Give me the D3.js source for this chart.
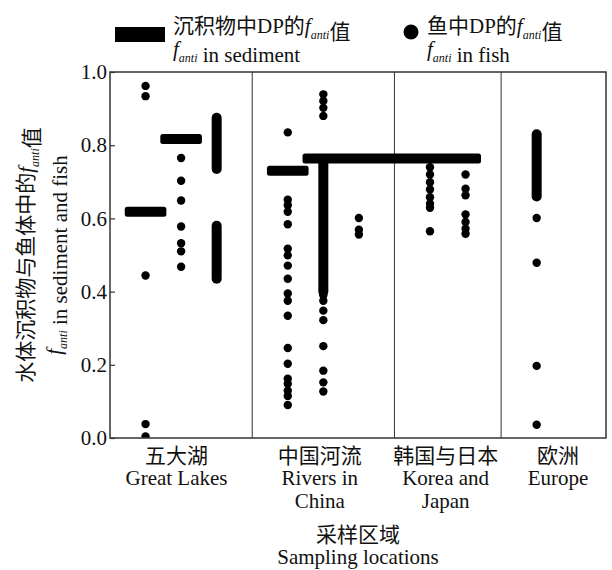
<!DOCTYPE html>
<html>
<head>
<meta charset="utf-8">
<script src="https://cdn.jsdelivr.net/npm/d3@7"></script>
<style>
  body { margin: 0; background: #fff; }
  svg text { font-family: "Liberation Serif", "Times New Roman", "Noto Sans CJK SC", serif; fill: #111; }
</style>
</head>
<body>
<div id="chart"></div>
<script>
// x axis: sampling regions (two-language labels) and where they sit on the slot axis
const regionCn = ["五大湖", "中国河流", "韩国与日本", "欧洲"];
const regionEn = [["Great Lakes"], ["Rivers in", "China"], ["Korea and", "Japan"], ["Europe"]];
const regionSlot = [1.87, 5.9, 9.44, 12.6];
const dividerSlots = [4, 8, 11];
const yTicks = [0, 0.2, 0.4, 0.6, 0.8, 1.0];

// f_anti in sediment: horizontal markers, slot range covered
const sedFrom = [1, 2, 5, 6];
const sedTo = [1, 2, 5, 9.85];
const sedValue = [0.618, 0.817, 0.730, 0.764];

// f_anti in fish, one list per column
const fishSlots = [1, 2, 5, 6, 7, 9, 10, 12];
const fishValues = [
  [0.962, 0.934, 0.444, 0.038, 0.004],
  [0.765, 0.703, 0.649, 0.578, 0.532, 0.510, 0.468],
  [0.835, 0.651, 0.636, 0.618, 0.584, 0.517, 0.499, 0.471, 0.435, 0.395, 0.375, 0.334,
   0.246, 0.203, 0.162, 0.148, 0.129, 0.115, 0.090],
  [0.939, 0.921, 0.902, 0.880, 0.390, 0.375, 0.348, 0.322, 0.251, 0.184, 0.152, 0.127],
  [0.601, 0.569, 0.556],
  [0.740, 0.720, 0.699, 0.679, 0.658, 0.640, 0.629, 0.565],
  [0.720, 0.681, 0.663, 0.611, 0.590, 0.572, 0.558],
  [0.601, 0.479, 0.197, 0.036]
];

// fish columns packed too tight to tell points apart: low / high
const denseSlots = [3, 3, 6, 12];
const denseLow = [0.735, 0.435, 0.400, 0.660];
const denseHigh = [0.875, 0.580, 0.750, 0.830];

const W = 612, H = 570;
const margin = { top: 72, right: 6, bottom: 132, left: 110 };
const serif = '"Liberation Serif", "Times New Roman", "Noto Sans CJK SC", serif';

const svg = d3.select("#chart").append("svg")
  .attr("width", W)
  .attr("height", H);

const x = d3.scaleLinear().domain([0, 13.95]).range([margin.left, W - margin.right]);
const y = d3.scaleLinear().domain([0, 1]).range([H - margin.bottom, margin.top]);

// writes "... f_anti ..." into a text element; parts: plain strings or {f:true}
function richText(sel, parts) {
  parts.forEach(p => {
    if (typeof p === "string") {
      sel.append("tspan").text(p);
    } else {
      sel.append("tspan").attr("font-style", "italic").text("f");
      sel.append("tspan").attr("font-style", "italic").attr("font-size", 12).attr("dy", 6).text("anti");
      sel.append("tspan").attr("dy", -6).text("");
    }
  });
}

svg.append("clipPath").attr("id", "plot")
  .append("rect")
  .attr("x", x(0)).attr("y", y(1))
  .attr("width", x(13.95) - x(0)).attr("height", y(0) - y(1));

// region dividers
svg.append("g").selectAll("line")
  .data(dividerSlots)
  .join("line")
  .attr("x1", d => x(d)).attr("x2", d => x(d))
  .attr("y1", y(1)).attr("y2", y(0))
  .attr("stroke", "#333").attr("stroke-width", 1);

const plot = svg.append("g").attr("clip-path", "url(#plot)");

// dense fish columns
plot.append("g").selectAll("line")
  .data(denseSlots.map((s, i) => ({ s, lo: denseLow[i], hi: denseHigh[i] })))
  .join("line")
  .attr("x1", d => x(d.s)).attr("x2", d => x(d.s))
  .attr("y1", d => y(d.lo)).attr("y2", d => y(d.hi))
  .attr("stroke", "#000").attr("stroke-width", 10).attr("stroke-linecap", "round");

// fish points
const fishPts = [];
fishSlots.forEach((s, i) => fishValues[i].forEach(v => fishPts.push({ s, v })));
plot.append("g").selectAll("circle")
  .data(fishPts)
  .join("circle")
  .attr("cx", d => x(d.s))
  .attr("cy", d => y(d.v))
  .attr("r", 4.2)
  .attr("fill", "#000");

// sediment markers
const half = 0.585;
plot.append("g").selectAll("rect")
  .data(sedValue.map((v, i) => ({ a: sedFrom[i], b: sedTo[i], v })))
  .join("rect")
  .attr("x", d => x(d.a - half))
  .attr("width", d => x(d.b + half) - x(d.a - half))
  .attr("y", d => y(d.v) - 5)
  .attr("height", 10)
  .attr("rx", 2.5)
  .attr("fill", "#000");

// frame
svg.append("rect")
  .attr("x", x(0)).attr("y", y(1))
  .attr("width", x(13.95) - x(0)).attr("height", y(0) - y(1))
  .attr("fill", "none").attr("stroke", "#333").attr("stroke-width", 1.5);

// y axis, ticks pointing inward
const yAxis = svg.append("g")
  .attr("transform", `translate(${x(0)},0)`)
  .call(d3.axisRight(y).tickValues(yTicks).tickFormat(d3.format(".1f")).tickSize(5));
yAxis.attr("font-family", serif);
yAxis.select(".domain").remove();
yAxis.selectAll(".tick line").attr("stroke", "#333").attr("stroke-width", 1.2);
yAxis.selectAll(".tick text")
  .attr("x", -3).attr("text-anchor", "end")
  .attr("font-family", serif)
  .attr("font-size", 21).attr("fill", "#111");

// x labels
const xl = svg.append("g");
regionCn.forEach((c, i) => {
  const cx = x(regionSlot[i]);
  xl.append("text").attr("x", cx).attr("y", 463).attr("text-anchor", "middle")
    .attr("font-size", 21).text(c);
  regionEn[i].forEach((t, j) => {
    xl.append("text").attr("x", cx).attr("y", 485 + j * 23).attr("text-anchor", "middle")
      .attr("font-size", 21).text(t);
  });
});

// x title
const xMid = (x(0) + x(13.95)) / 2;
svg.append("text").attr("x", xMid).attr("y", 542).attr("text-anchor", "middle")
  .attr("font-size", 21).text("采样区域");
svg.append("text").attr("x", xMid).attr("y", 564).attr("text-anchor", "middle")
  .attr("font-size", 21).text("Sampling locations");

// y title (two rotated lines)
const yMid = (y(0) + y(1)) / 2;
const yt1 = svg.append("text")
  .attr("transform", `translate(33,${yMid}) rotate(-90)`)
  .attr("text-anchor", "middle").attr("font-size", 21);
richText(yt1, ["水体沉积物与鱼体中的", { f: true }, "值"]);
const yt2 = svg.append("text")
  .attr("transform", `translate(61,${yMid}) rotate(-90)`)
  .attr("text-anchor", "middle").attr("font-size", 21);
richText(yt2, [{ f: true }, " in sediment and fish"]);

// legend
const lg = svg.append("g");
lg.append("rect").attr("x", 115).attr("y", 27).attr("width", 50).attr("height", 15).attr("fill", "#000");
richText(lg.append("text").attr("x", 173).attr("y", 33).attr("font-size", 21),
  ["沉积物中DP的", { f: true }, "值"]);
richText(lg.append("text").attr("x", 173).attr("y", 56).attr("font-size", 21),
  [{ f: true }, " in sediment"]);

lg.append("circle").attr("cx", 411).attr("cy", 32).attr("r", 7.5).attr("fill", "#000");
richText(lg.append("text").attr("x", 427).attr("y", 33).attr("font-size", 21),
  ["鱼中DP的", { f: true }, "值"]);
richText(lg.append("text").attr("x", 427).attr("y", 56).attr("font-size", 21),
  [{ f: true }, " in fish"]);
</script>
</body>
</html>
